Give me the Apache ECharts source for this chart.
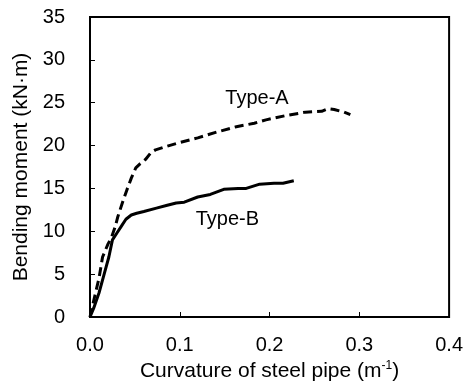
<!DOCTYPE html>
<html>
<head>
<meta charset="utf-8">
<script src="https://cdn.jsdelivr.net/npm/echarts@6/dist/echarts.min.js"></script>
<style>
  html, body { margin: 0; padding: 0; background: #fff; }
  #chart { width: 466px; height: 389px; }
</style>
</head>
<body>
<div id="chart"></div>
<script>
// curvature (1/m), bending moment (kN·m)
const typeA = [
  [0, 0], [0.005, 2.3], [0.010, 4.5], [0.014, 7.0], [0.020, 8.5], [0.024, 9.3],
  [0.028, 10.5], [0.031, 11.7], [0.036, 13.3], [0.041, 14.8], [0.046, 16.2],
  [0.051, 17.4], [0.056, 17.9], [0.062, 18.4], [0.068, 19.2], [0.073, 19.5],
  [0.082, 19.8], [0.098, 20.3], [0.120, 20.9], [0.142, 21.6], [0.163, 22.2],
  [0.183, 22.6], [0.196, 23.0], [0.218, 23.5], [0.240, 23.9], [0.258, 24.0],
  [0.265, 24.3], [0.272, 24.2], [0.283, 23.9], [0.290, 23.6]
];
const typeB = [
  [0, 0], [0.004, 1.0], [0.010, 2.8], [0.016, 5.1], [0.021, 7.0], [0.025, 9.0],
  [0.030, 9.8], [0.035, 10.6], [0.040, 11.4], [0.046, 11.9], [0.052, 12.1],
  [0.060, 12.3], [0.074, 12.7], [0.085, 13.0], [0.096, 13.3], [0.105, 13.4],
  [0.120, 14.0], [0.134, 14.3], [0.149, 14.9], [0.165, 15.0], [0.174, 15.0],
  [0.189, 15.5], [0.205, 15.6], [0.215, 15.6], [0.227, 15.9]
];
const labelA = [0.186, 25.5];
const labelB = [0.153, 11.4];

const font = "'Liberation Sans', Arial, sans-serif";
const textStyle = { fontFamily: font, fontSize: 20, color: "#000" };

const chart = echarts.init(document.getElementById("chart"));
chart.setOption({
  animation: false,
  textStyle,
  grid: {
    left: 90, top: 17, right: 9, bottom: 72,
    show: true, borderColor: "#000", borderWidth: 2, backgroundColor: "transparent"
  },
  xAxis: {
    type: "value", min: 0, max: 0.4, interval: 0.1,
    name: "Curvature of steel pipe (m{sup|-1})",
    nameLocation: "middle", nameGap: 34,
    nameTextStyle: {
      fontFamily: font, fontSize: 21, color: "#000",
      rich: { sup: { fontFamily: font, fontSize: 12, color: "#000", padding: [0, 0, 10, 0] } }
    },
    axisLine: { lineStyle: { color: "#000", width: 2 } },
    axisTick: { inside: true, length: 5, lineStyle: { color: "#000", width: 1 } },
    axisLabel: { margin: 18, color: "#000", fontFamily: font, fontSize: 20, formatter: v => v.toFixed(1) },
    splitLine: { show: false }
  },
  yAxis: {
    type: "value", min: 0, max: 35, interval: 5,
    name: "Bending moment (kN·m)",
    nameLocation: "middle", nameGap: 57,
    nameTextStyle: { fontFamily: font, fontSize: 21, color: "#000" },
    axisLine: { lineStyle: { color: "#000", width: 2 } },
    axisTick: { inside: true, length: 5, lineStyle: { color: "#000", width: 1 } },
    axisLabel: { margin: 25, color: "#000", fontFamily: font, fontSize: 20 },
    splitLine: { show: false }
  },
  series: [
    {
      name: "Type-A", type: "line", data: typeA, symbol: "none", smooth: false,
      lineStyle: { color: "#000", width: 3, type: [9, 5] },
      markPoint: {
        symbol: "circle", symbolSize: 0, silent: true,
        label: { show: true, formatter: "Type-A", color: "#000", fontFamily: font, fontSize: 20 },
        data: [{ coord: labelA }]
      }
    },
    {
      name: "Type-B", type: "line", data: typeB, symbol: "none", smooth: false,
      lineStyle: { color: "#000", width: 3 },
      markPoint: {
        symbol: "circle", symbolSize: 0, silent: true,
        label: { show: true, formatter: "Type-B", color: "#000", fontFamily: font, fontSize: 20 },
        data: [{ coord: labelB }]
      }
    }
  ]
});
</script>
</body>
</html>
